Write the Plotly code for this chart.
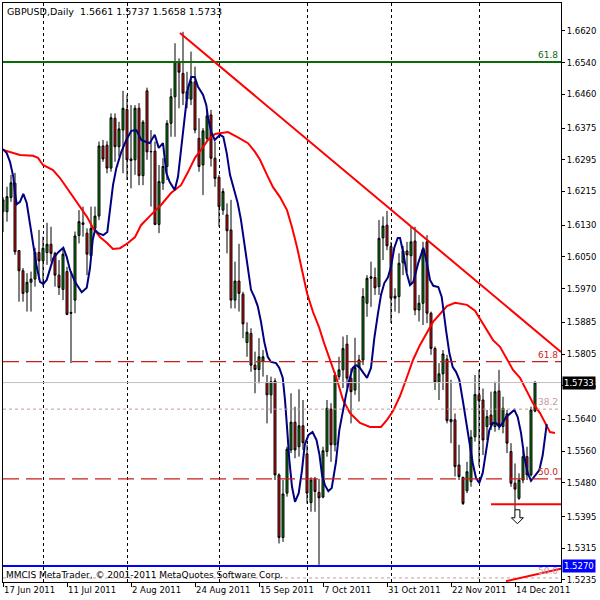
import numpy as np
import pandas as pd
import plotly.graph_objects as go

# ---------------- data ----------------
title_text = "GBPUSD,Daily  1.5661 1.5737 1.5658 1.5733"
footer_text = "MMCIS MetaTrader, \u00a9 2001-2011 MetaQuotes Software Corp."

dates = pd.bdate_range("2011-06-17", periods=134)

opens = [1.6164, 1.6164, 1.6200, 1.6236, 1.6066, 1.6015, 1.5961, 1.5986, 1.5994, 1.6061,
         1.6040, 1.6061, 1.6082, 1.6059, 1.6004, 1.5968, 1.6013, 1.5910, 1.5941, 1.6104,
         1.6136, 1.6110, 1.6053, 1.6122, 1.6153, 1.6330, 1.6332, 1.6274, 1.6400, 1.6328,
         1.6370, 1.6422, 1.6297, 1.6295, 1.6425, 1.6255, 1.6469, 1.6315, 1.6317, 1.6132,
         1.6236, 1.6278, 1.6387, 1.6454, 1.6543, 1.6513, 1.6448, 1.6448, 1.6492, 1.6349,
         1.6282, 1.6349, 1.6408, 1.6299, 1.6251, 1.6168, 1.6156, 1.6118, 1.5941, 1.5989,
         1.5956, 1.5834, 1.5857, 1.5777, 1.5766, 1.5787, 1.5733, 1.5702, 1.5737, 1.5500,
         1.5342, 1.5454, 1.5563, 1.5633, 1.5571, 1.5624, 1.5553, 1.5430, 1.5489, 1.5456,
         1.5444, 1.5559, 1.5666, 1.5576, 1.5748, 1.5765, 1.5830, 1.5744, 1.5714, 1.5771,
         1.5790, 1.5933, 1.6000, 1.5998, 1.5975, 1.6098, 1.6130, 1.6076, 1.5951, 1.5950,
         1.6035, 1.6065, 1.6053, 1.6090, 1.5916, 1.5933, 1.6088, 1.5908, 1.5819, 1.5734,
         1.5755, 1.5792, 1.5640, 1.5639, 1.5525, 1.5494, 1.5460, 1.5483, 1.5596, 1.5702,
         1.5689, 1.5622, 1.5651, 1.5622, 1.5712, 1.5622, 1.5654, 1.5559, 1.5479, 1.5441,
         1.5487, 1.5546, 1.5500, 1.5661]
highs = [1.6201, 1.6227, 1.6257, 1.6262, 1.6067, 1.6022, 1.6009, 1.6013, 1.6073, 1.6118,
         1.6101, 1.6136, 1.6126, 1.6063, 1.6042, 1.6072, 1.6025, 1.6013, 1.6114, 1.6168,
         1.6177, 1.6122, 1.6177, 1.6177, 1.6341, 1.6345, 1.6342, 1.6412, 1.6412, 1.6391,
         1.6469, 1.6459, 1.6433, 1.6433, 1.6438, 1.6395, 1.6477, 1.6370, 1.6341, 1.6282,
         1.6299, 1.6395, 1.6475, 1.6589, 1.6551, 1.6618, 1.6517, 1.6568, 1.6530, 1.6400,
         1.6375, 1.6421, 1.6421, 1.6341, 1.6257, 1.6223, 1.6185, 1.6194, 1.6038, 1.6083,
         1.5962, 1.5885, 1.5870, 1.5811, 1.5845, 1.5815, 1.5752, 1.5748, 1.5744, 1.5504,
         1.5487, 1.5571, 1.5706, 1.5672, 1.5716, 1.5689, 1.5576, 1.5494, 1.5495, 1.5490,
         1.5571, 1.5689, 1.5681, 1.5760, 1.5798, 1.5849, 1.5853, 1.5769, 1.5846, 1.5803,
         1.5971, 1.6004, 1.6038, 1.6023, 1.6143, 1.6152, 1.6166, 1.6088, 1.5971, 1.6059,
         1.6078, 1.6088, 1.6126, 1.6126, 1.5954, 1.6088, 1.6105, 1.5912, 1.5824, 1.5782,
         1.5815, 1.5803, 1.5740, 1.5655, 1.5576, 1.5495, 1.5533, 1.5613, 1.5752, 1.5765,
         1.5718, 1.5664, 1.5710, 1.5735, 1.5765, 1.5697, 1.5664, 1.5580, 1.5529, 1.5504,
         1.5563, 1.5571, 1.5672, 1.5737]
lows = [1.6113, 1.6139, 1.6189, 1.6055, 1.5937, 1.5937, 1.5912, 1.5912, 1.5975, 1.5992,
        1.5975, 1.6030, 1.6038, 1.5975, 1.5954, 1.5941, 1.5903, 1.5782, 1.5908, 1.6084,
        1.6101, 1.6004, 1.6051, 1.6118, 1.6143, 1.6290, 1.6261, 1.6265, 1.6290, 1.6303,
        1.6261, 1.6244, 1.6223, 1.6257, 1.6231, 1.6231, 1.6295, 1.6177, 1.6130, 1.6110,
        1.6219, 1.6244, 1.6353, 1.6353, 1.6425, 1.6433, 1.6425, 1.6433, 1.6362, 1.6265,
        1.6206, 1.6341, 1.6278, 1.6227, 1.6126, 1.6156, 1.6059, 1.5920, 1.5920, 1.5912,
        1.5845, 1.5798, 1.5760, 1.5706, 1.5731, 1.5748, 1.5630, 1.5655, 1.5487, 1.5327,
        1.5331, 1.5445, 1.5555, 1.5542, 1.5546, 1.5563, 1.5428, 1.5407, 1.5407, 1.5273,
        1.5441, 1.5546, 1.5533, 1.5559, 1.5740, 1.5719, 1.5720, 1.5630, 1.5702, 1.5685,
        1.5777, 1.5899, 1.5924, 1.5954, 1.5954, 1.6042, 1.6067, 1.5883, 1.5912, 1.5908,
        1.6004, 1.6013, 1.5979, 1.5903, 1.5887, 1.5878, 1.5883, 1.5803, 1.5714, 1.5689,
        1.5714, 1.5630, 1.5580, 1.5496, 1.5487, 1.5424, 1.5454, 1.5470, 1.5584, 1.5522,
        1.5550, 1.5588, 1.5613, 1.5609, 1.5613, 1.5605, 1.5555, 1.5470, 1.5412, 1.5437,
        1.5479, 1.5487, 1.5496, 1.5658]
closes = [1.6194, 1.6202, 1.6237, 1.6063, 1.6015, 1.5958, 1.5986, 1.5994, 1.6061, 1.6040,
          1.6072, 1.6082, 1.6059, 1.6004, 1.5973, 1.6057, 1.5905, 1.5908, 1.6103, 1.6139,
          1.6132, 1.6057, 1.6122, 1.6153, 1.6330, 1.6297, 1.6274, 1.6401, 1.6328, 1.6373,
          1.6425, 1.6295, 1.6293, 1.6425, 1.6255, 1.6390, 1.6315, 1.6316, 1.6132, 1.6240,
          1.6278, 1.6387, 1.6454, 1.6543, 1.6516, 1.6463, 1.6467, 1.6492, 1.6370, 1.6278,
          1.6368, 1.6406, 1.6299, 1.6248, 1.6177, 1.6215, 1.6116, 1.5941, 1.5989, 1.5958,
          1.5881, 1.5860, 1.5777, 1.5766, 1.5798, 1.5798, 1.5702, 1.5735, 1.5500, 1.5342,
          1.5452, 1.5565, 1.5633, 1.5563, 1.5624, 1.5581, 1.5454, 1.5487, 1.5458, 1.5442,
          1.5561, 1.5668, 1.5576, 1.5752, 1.5765, 1.5819, 1.5744, 1.5710, 1.5771, 1.5790,
          1.5950, 1.5996, 1.5996, 1.5972, 1.6097, 1.6128, 1.6078, 1.5946, 1.5946, 1.6034,
          1.6065, 1.6055, 1.6088, 1.5916, 1.5933, 1.6069, 1.5908, 1.5819, 1.5734, 1.5755,
          1.5805, 1.5637, 1.5634, 1.5521, 1.5496, 1.5428, 1.5508, 1.5595, 1.5703, 1.5687,
          1.5588, 1.5647, 1.5626, 1.5710, 1.5626, 1.5668, 1.5580, 1.5479, 1.5464, 1.5487,
          1.5546, 1.5500, 1.5664, 1.5733]

# slow moving average (red), read at bar positions
red_ma_pos = [0, 1.75, 4.25, 7.5, 8.75, 10, 12.5, 14.25, 16, 18.5, 21, 22.5, 24.25, 26, 27.5,
              29.25, 31.25, 33, 34.5, 37, 39.5, 42, 44.5, 46.25, 48, 49.5, 51.25, 53, 56.25, 58.5,
              61.25, 63, 64.25, 66, 67.5, 69.25, 71, 72.25, 73.5, 74.75, 76, 77.5, 79, 80.25, 81.75,
              83.5, 85, 86.75, 89.25, 91.75, 94.5, 96, 97.5, 99.25, 101, 102.5, 104.25, 106, 107.5,
              109.25, 111, 113, 116, 118, 119.25, 121, 122.5, 124.25, 126, 127.5, 129.25, 131,
              132.5, 134.25, 136, 136.75, 138]
red_ma_val = [1.6320, 1.6315, 1.6307, 1.6305, 1.6300, 1.6282, 1.6269, 1.6249, 1.6224, 1.6189,
              1.6151, 1.6123, 1.6100, 1.6085, 1.6070, 1.6072, 1.6085, 1.6100, 1.6130, 1.6156,
              1.6181, 1.6211, 1.6231, 1.6264, 1.6300, 1.6320, 1.6345, 1.6360, 1.6365, 1.6353,
              1.6337, 1.6315, 1.6295, 1.6257, 1.6226, 1.6201, 1.6168, 1.6125, 1.6075, 1.6017,
              1.5959, 1.5911, 1.5873, 1.5833, 1.5790, 1.5740, 1.5689, 1.5656, 1.5631, 1.5621,
              1.5621, 1.5639, 1.5661, 1.5699, 1.5747, 1.5790, 1.5828, 1.5861, 1.5886, 1.5906,
              1.5926, 1.5934, 1.5929, 1.5914, 1.5893, 1.5866, 1.5840, 1.5823, 1.5790, 1.5765,
              1.5745, 1.5709, 1.5681, 1.5656, 1.5621, 1.5608, 1.5606]

# fast moving average (navy), read at bar positions
blue_ma_pos = [0, 0.93, 1.75, 2.58, 3.0, 3.43, 4.25, 5.08, 5.93, 6.75,
               7.58, 8.43, 9.25, 10.08, 10.93, 11.75, 12.58, 13.83, 15.08, 15.93,
               16.75, 18.0, 19.68, 20.93, 21.75, 22.43, 23.0, 23.83, 25.08, 26.08,
               26.75, 27.5, 28.33, 29.58, 30.83, 32.08, 33.33, 34.58, 35.83, 36.68,
               37.93, 38.93, 40.0, 40.83, 41.68, 42.93, 43.75, 44.58, 45.43, 46.25,
               47.08, 47.93, 48.75, 50.0, 50.83, 51.25, 52.08, 52.93, 53.75, 54.25,
               55.08, 55.93, 56.75, 57.83, 58.68, 59.5, 60.33, 61.18, 62.0, 62.83,
               63.68, 64.5, 65.33, 66.18, 67.0, 68.25, 69.08, 69.93, 70.5, 71.0,
               71.58, 72.25, 73.0, 73.93, 74.75, 75.43, 76.38, 77.38, 78.38, 79.13,
               79.75, 80.5, 81.33, 82.18, 83.25, 84.08, 84.93, 85.75, 86.58, 87.43,
               88.25, 89.08, 89.93, 91.0, 92.0, 92.83, 93.68, 94.5, 95.33, 96.18,
               97.0, 97.83, 98.68, 99.25, 100.08, 100.93, 101.75, 102.58, 103.83, 105.08,
               105.93, 106.75, 107.58, 108.83, 109.68, 110.25, 110.75, 111.58, 112.43, 113.25,
               114.08, 114.93, 115.75, 116.58, 117.43, 118.25, 119.08, 119.93, 120.75, 121.58,
               122.43, 123.25, 124.08, 124.93, 125.75, 127.0, 127.83, 128.68, 129.5, 130.33,
               131.18, 132.0, 132.83, 134.08, 134.93, 135.93]
blue_ma_val = [1.6322, 1.6312, 1.6290, 1.6252, 1.6211, 1.6183, 1.6189, 1.6209, 1.6186, 1.6136,
               1.6085, 1.6025, 1.5987, 1.5982, 1.5992, 1.6022, 1.6047, 1.6062, 1.6073, 1.6050,
               1.6017, 1.5987, 1.5961, 1.5972, 1.6022, 1.6093, 1.6118, 1.6110, 1.6105, 1.6113,
               1.6168, 1.6231, 1.6274, 1.6315, 1.6345, 1.6368, 1.6370, 1.6345, 1.6340, 1.6337,
               1.6358, 1.6325, 1.6337, 1.6262, 1.6239, 1.6219, 1.6252, 1.6325, 1.6408, 1.6476,
               1.6504, 1.6504, 1.6479, 1.6459, 1.6433, 1.6401, 1.6365, 1.6345, 1.6353, 1.6358,
               1.6353, 1.6312, 1.6257, 1.6219, 1.6186, 1.6143, 1.6088, 1.6030, 1.5967, 1.5949,
               1.5926, 1.5886, 1.5835, 1.5798, 1.5785, 1.5782, 1.5770, 1.5745, 1.5689, 1.5621,
               1.5538, 1.5470, 1.5432, 1.5454, 1.5512, 1.5576, 1.5601, 1.5608, 1.5588, 1.5550,
               1.5500, 1.5474, 1.5459, 1.5467, 1.5533, 1.5613, 1.5664, 1.5702, 1.5740, 1.5770,
               1.5777, 1.5772, 1.5760, 1.5745, 1.5770, 1.5845, 1.5903, 1.5954, 1.5984, 1.5997,
               1.6025, 1.6073, 1.6098, 1.6098, 1.6060, 1.6009, 1.5979, 1.5987, 1.6035, 1.6073,
               1.6037, 1.5992, 1.5977, 1.5974, 1.5949, 1.5898, 1.5866, 1.5808, 1.5772, 1.5760,
               1.5740, 1.5689, 1.5639, 1.5588, 1.5530, 1.5492, 1.5480, 1.5505, 1.5563, 1.5613,
               1.5631, 1.5631, 1.5621, 1.5631, 1.5646, 1.5656, 1.5664, 1.5646, 1.5606, 1.5545,
               1.5505, 1.5485, 1.5495, 1.5512, 1.5550, 1.5628]

# axis ticks
x_tick_dates = ["2011-06-17", "2011-07-11", "2011-08-02", "2011-08-24", "2011-09-15",
                "2011-10-07", "2011-10-31", "2011-11-22", "2011-12-14"]
x_tick_labels = ["17 Jun 2011", "11 Jul 2011", "2 Aug 2011", "24 Aug 2011", "15 Sep 2011",
                 "7 Oct 2011", "31 Oct 2011", "22 Nov 2011", "14 Dec 2011"]
y_tick_vals = [1.6620, 1.6540, 1.6460, 1.6375, 1.6295, 1.6215, 1.6130, 1.6050, 1.5970,
               1.5885, 1.5805, 1.5725, 1.5640, 1.5560, 1.5480, 1.5395, 1.5315, 1.5235]

# drawing objects / levels
fibo_green_level = 1.6542
fibo_red_levels = [1.5786, 1.5490]
fibo_red_labels = ["61.8", "50.0"]
fibo_light_levels = [1.5666, 1.5240]
fibo_light_labels = ["38.2", "50.0"]
bid_price = 1.5733
blue_level = 1.5270
support_start_date = "2011-12-06"
support_level = 1.5426
trend_start = (44.25, 1.6615)
trend_end = (139.5, 1.5810)
bottom_line_start = (125.75, 1.5232)
bottom_line_end = (139.5, 1.5263)
arrow_pos = (128.6, 1.5412)

# ---------------- figure ----------------
n = len(dates)
x_idx = np.arange(n)
date_list = list(dates.strftime("%Y-%m-%d"))
tick_idx = [date_list.index(d) for d in x_tick_dates]
month_start_idx = [i for i in range(1, n) if dates[i].month != dates[i - 1].month]
x_max = 139.5

FONT = "DejaVu Sans"
FIBO_RED = "#c81e1e"

fig = go.Figure()
fig.add_trace(go.Candlestick(
    x=x_idx, open=opens, high=highs, low=lows, close=closes,
    increasing=dict(line=dict(color="black", width=1), fillcolor="#118a11"),
    decreasing=dict(line=dict(color="black", width=1), fillcolor="#e51414"),
    whiskerwidth=0, showlegend=False, hoverinfo="skip"))
fig.add_trace(go.Scatter(x=red_ma_pos, y=red_ma_val, mode="lines",
                         line=dict(color="#ff0000", width=2), showlegend=False, hoverinfo="skip"))
fig.add_trace(go.Scatter(x=blue_ma_pos, y=blue_ma_val, mode="lines",
                         line=dict(color="#000080", width=2), showlegend=False, hoverinfo="skip"))

shapes = []
shapes.append(dict(type="line", xref="paper", x0=0, x1=1, yref="y", y0=bid_price, y1=bid_price,
                   line=dict(color="#c0c0c0", width=1)))
for lv in fibo_light_levels:
    shapes.append(dict(type="line", xref="paper", x0=0, x1=1, yref="y", y0=lv, y1=lv,
                       line=dict(color="#c39a9a", width=1, dash="3px,3px")))
for lv in fibo_red_levels:
    shapes.append(dict(type="line", xref="paper", x0=0, x1=1, yref="y", y0=lv, y1=lv,
                       line=dict(color=FIBO_RED, width=1.3, dash="16px,7px")))
shapes.append(dict(type="line", xref="paper", x0=0, x1=1, yref="y", y0=fibo_green_level,
                   y1=fibo_green_level, line=dict(color="#0a6a0a", width=2)))
shapes.append(dict(type="line", xref="paper", x0=0, x1=1, yref="y", y0=blue_level, y1=blue_level,
                   line=dict(color="#0000ff", width=2)))
sup_x = date_list.index(support_start_date)
shapes.append(dict(type="line", xref="x", x0=sup_x, x1=x_max, yref="y", y0=support_level,
                   y1=support_level, line=dict(color="#ff0000", width=2)))
shapes.append(dict(type="line", xref="x", x0=trend_start[0], x1=trend_end[0], yref="y",
                   y0=trend_start[1], y1=trend_end[1], line=dict(color="#ff0000", width=2)))
shapes.append(dict(type="line", xref="x", x0=bottom_line_start[0], x1=bottom_line_end[0], yref="y",
                   y0=bottom_line_start[1], y1=bottom_line_end[1], line=dict(color="#ff0000", width=2)))
shapes.append(dict(type="path", xref="x", yref="y", xsizemode="pixel", ysizemode="pixel",
                   xanchor=arrow_pos[0], yanchor=arrow_pos[1],
                   path="M -2.5 0 L 2.5 0 L 2.5 -8 L 6 -8 L 0 -14 L -6 -8 L -2.5 -8 Z",
                   fillcolor="white", line=dict(color="black", width=1)))

annotations = []
annotations.append(dict(xref="paper", yref="paper", x=0, y=1, xanchor="left", yanchor="top",
                        xshift=2, yshift=-1, text=title_text, showarrow=False,
                        font=dict(family=FONT, size=9.5, color="black")))
annotations.append(dict(xref="paper", yref="paper", x=0, y=0, xanchor="left", yanchor="bottom",
                        xshift=1, yshift=0, text=footer_text, showarrow=False,
                        font=dict(family=FONT, size=9, color="black")))
annotations.append(dict(xref="paper", yref="y", x=1, y=fibo_green_level, xanchor="right",
                        yanchor="bottom", xshift=-1, text="61.8", showarrow=False,
                        font=dict(family=FONT, size=9, color="#0a6a0a")))
for lv, lb in zip(fibo_red_levels, fibo_red_labels):
    annotations.append(dict(xref="paper", yref="y", x=1, y=lv, xanchor="right", yanchor="bottom",
                            xshift=-1, text=lb, showarrow=False,
                            font=dict(family=FONT, size=9, color=FIBO_RED)))
for lv, lb in zip(fibo_light_levels, fibo_light_labels):
    annotations.append(dict(xref="paper", yref="y", x=1, y=lv, xanchor="right", yanchor="bottom",
                            xshift=-1, text=lb, showarrow=False,
                            font=dict(family=FONT, size=9, color="#c39a9a")))
annotations.append(dict(xref="paper", yref="y", x=1, y=bid_price, xanchor="left", yanchor="middle",
                        xshift=1, text=f"{bid_price:.4f}", showarrow=False, bgcolor="black",
                        borderpad=1, font=dict(family=FONT, size=8.5, color="white")))
annotations.append(dict(xref="paper", yref="y", x=1, y=blue_level, xanchor="left", yanchor="middle",
                        xshift=1, text=f"{blue_level:.4f}", showarrow=False, bgcolor="#0000ff",
                        borderpad=1, font=dict(family=FONT, size=8.5, color="white")))

fig.update_layout(
    width=600, height=600, margin=dict(l=3, r=39, t=3, b=18),
    paper_bgcolor="white", plot_bgcolor="white", showlegend=False,
    shapes=shapes, annotations=annotations, boxgap=0.3,
)
fig.update_xaxes(
    range=[0, x_max], tickmode="array", tickvals=tick_idx, ticktext=x_tick_labels,
    ticks="outside", ticklen=4, tickcolor="black", showgrid=False, zeroline=False,
    showline=True, mirror=True, linecolor="black", linewidth=1,
    ticklabelposition="outside right",
    tickfont=dict(family=FONT, size=8.5, color="black"),
    rangeslider=dict(visible=False),
    minor=dict(tickmode="array", tickvals=month_start_idx, showgrid=True, gridcolor="black",
               griddash="3px,3px", gridwidth=1, ticks=""),
)
fig.update_yaxes(
    range=[1.52298, 1.66906], side="right", tickmode="array", tickvals=y_tick_vals,
    ticktext=[f"{v:.4f}" for v in y_tick_vals], ticks="outside", ticklen=3, tickcolor="black",
    showgrid=False, zeroline=False, showline=True, mirror=True, linecolor="black", linewidth=1,
    tickfont=dict(family=FONT, size=8.5, color="black"),
)

fig.write_html("out.html", config={"displayModeBar": False},
               post_script="document.body.style.margin='0';")
